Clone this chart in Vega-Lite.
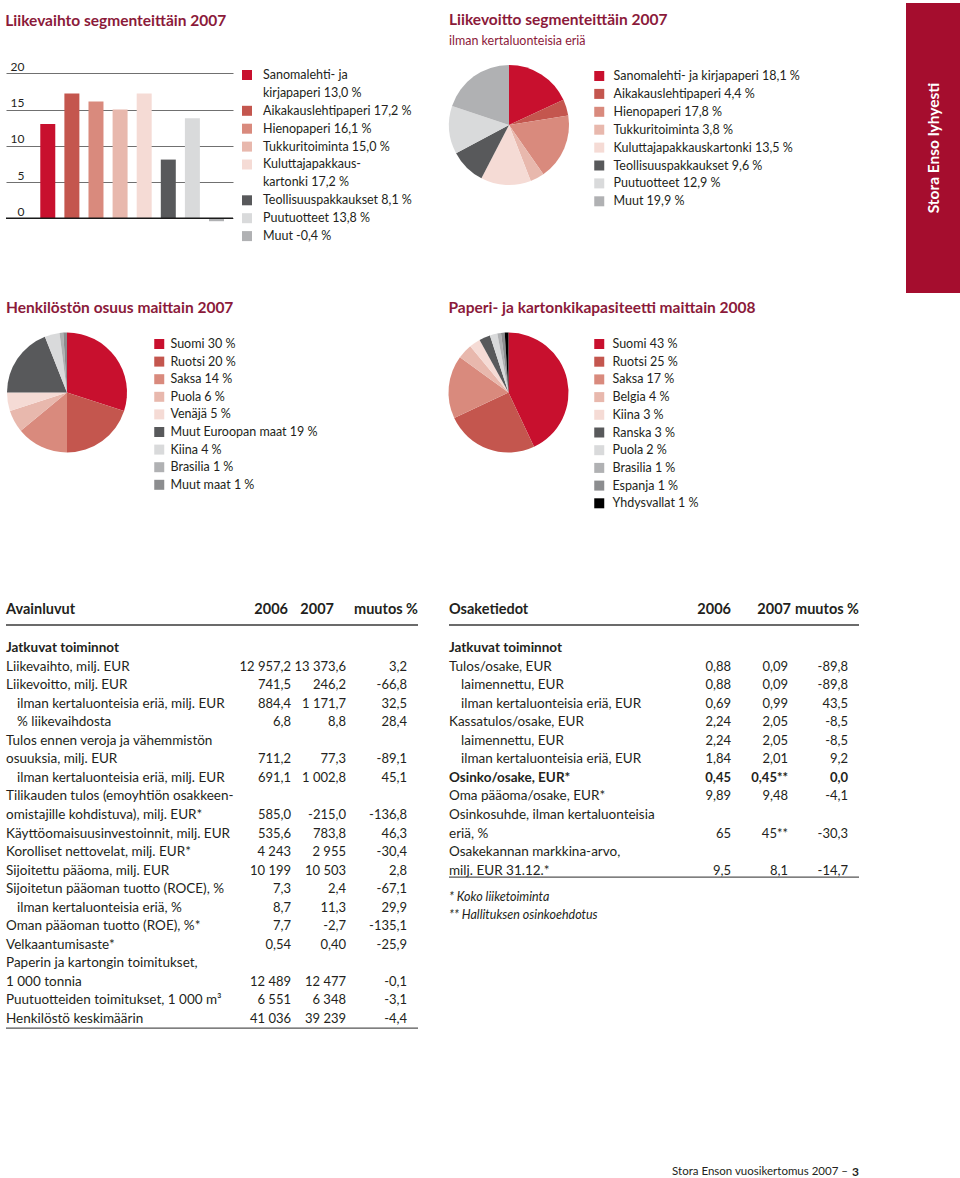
{
"$schema":"https://vega.github.io/schema/vega-lite/v6.json",
"padding":{"left":5,"top":3,"right":0,"bottom":0},
"background":"white",
"config":{"font":"Lato","view":{"stroke":null},
 "title":{"anchor":"start","font":"Lato","fontSize":15.5,"fontWeight":"bold","color":"#8b1a3a","subtitleFont":"Lato","subtitleFontSize":12.5,"subtitleColor":"#8b1a3a","subtitlePadding":6},
 "text":{"font":"Lato","color":"#231f20"},
 "axis":{"labelFont":"Lato"},
 "legend":{"orient":"none","direction":"vertical","title":null,"symbolType":"square","symbolSize":100,"symbolStrokeWidth":0,"symbolOpacity":1,"labelFont":"Lato","labelFontSize":12.5,"labelColor":"#231f20","padding":0,"labelLimit":400}},
"datasets":{
 "bars":[{"segment":"Sanomalehti- ja kirjapaperi","value":13.0},{"segment":"Aikakauslehtipaperi","value":17.2},{"segment":"Hienopaperi","value":16.1},{"segment":"Tukkuritoiminta","value":15.0},{"segment":"Kuluttajapakkauskartonki","value":17.2},{"segment":"Teollisuuspakkaukset","value":8.1},{"segment":"Puutuotteet","value":13.8},{"segment":"Muut","value":-0.4}],
 "barlegend":[{"line":0,"text":"Sanomalehti- ja","key":"Sanomalehti- ja kirjapaperi"},{"line":1,"text":"kirjapaperi 13,0 %"},{"line":2,"text":"Aikakauslehtipaperi 17,2 %","key":"Aikakauslehtipaperi"},{"line":3,"text":"Hienopaperi 16,1 %","key":"Hienopaperi"},{"line":4,"text":"Tukkuritoiminta 15,0 %","key":"Tukkuritoiminta"},{"line":5,"text":"Kuluttajapakkaus-","key":"Kuluttajapakkauskartonki"},{"line":6,"text":"kartonki 17,2 %"},{"line":7,"text":"Teollisuuspakkaukset 8,1 %","key":"Teollisuuspakkaukset"},{"line":8,"text":"Puutuotteet 13,8 %","key":"Puutuotteet"},{"line":9,"text":"Muut -0,4 %","key":"Muut"}],
 "pie1":[{"line":0,"key":"Sanomalehti- ja kirjapaperi 18,1 %","value":18.1},{"line":1,"key":"Aikakauslehtipaperi 4,4 %","value":4.4},{"line":2,"key":"Hienopaperi 17,8 %","value":17.8},{"line":3,"key":"Tukkuritoiminta 3,8 %","value":3.8},{"line":4,"key":"Kuluttajapakkauskartonki 13,5 %","value":13.5},{"line":5,"key":"Teollisuuspakkaukset 9,6 %","value":9.6},{"line":6,"key":"Puutuotteet 12,9 %","value":12.9},{"line":7,"key":"Muut 19,9 %","value":19.9}],
 "pie2":[{"line":0,"key":"Suomi 30 %","value":30},{"line":1,"key":"Ruotsi 20 %","value":20},{"line":2,"key":"Saksa 14 %","value":14},{"line":3,"key":"Puola 6 %","value":6},{"line":4,"key":"Venäjä 5 %","value":5},{"line":5,"key":"Muut Euroopan maat 19 %","value":19},{"line":6,"key":"Kiina 4 %","value":4},{"line":7,"key":"Brasilia 1 %","value":1},{"line":8,"key":"Muut maat 1 %","value":1}],
 "pie3":[{"line":0,"key":"Suomi 43 %","value":43},{"line":1,"key":"Ruotsi 25 %","value":25},{"line":2,"key":"Saksa 17 %","value":17},{"line":3,"key":"Belgia 4 %","value":4},{"line":4,"key":"Kiina 3 %","value":3},{"line":5,"key":"Ranska 3 %","value":3},{"line":6,"key":"Puola 2 %","value":2},{"line":7,"key":"Brasilia 1 %","value":1},{"line":8,"key":"Espanja 1 %","value":1},{"line":9,"key":"Yhdysvallat 1 %","value":1}],
 "t1":[{"r":-2.05,"k":"h","label":"Avainluvut","a":"2006","b":"2007","c":"muutos %"},{"r":0,"k":"b","label":"Jatkuvat toiminnot"},{"r":1,"k":"n","label":"Liikevaihto, milj. EUR","a":"12 957,2","b":"13 373,6","c":"3,2"},{"r":2,"k":"n","label":"Liikevoitto, milj. EUR","a":"741,5","b":"246,2","c":"-66,8"},{"r":3,"k":"i","label":"ilman kertaluonteisia eriä, milj. EUR","a":"884,4","b":"1 171,7","c":"32,5"},{"r":4,"k":"i","label":"% liikevaihdosta","a":"6,8","b":"8,8","c":"28,4"},{"r":5,"k":"n","label":"Tulos ennen veroja ja vähemmistön"},{"r":6,"k":"n","label":"osuuksia, milj. EUR","a":"711,2","b":"77,3","c":"-89,1"},{"r":7,"k":"i","label":"ilman kertaluonteisia eriä, milj. EUR","a":"691,1","b":"1 002,8","c":"45,1"},{"r":8,"k":"n","label":"Tilikauden tulos (emoyhtiön osakkeen-"},{"r":9,"k":"n","label":"omistajille kohdistuva), milj. EUR*","a":"585,0","b":"-215,0","c":"-136,8"},{"r":10,"k":"n","label":"Käyttöomaisuusinvestoinnit, milj. EUR","a":"535,6","b":"783,8","c":"46,3"},{"r":11,"k":"n","label":"Korolliset nettovelat, milj. EUR*","a":"4 243","b":"2 955","c":"-30,4"},{"r":12,"k":"n","label":"Sijoitettu pääoma, milj. EUR","a":"10 199","b":"10 503","c":"2,8"},{"r":13,"k":"n","label":"Sijoitetun pääoman tuotto (ROCE), %","a":"7,3","b":"2,4","c":"-67,1"},{"r":14,"k":"i","label":"ilman kertaluonteisia eriä, %","a":"8,7","b":"11,3","c":"29,9"},{"r":15,"k":"n","label":"Oman pääoman tuotto (ROE), %*","a":"7,7","b":"-2,7","c":"-135,1"},{"r":16,"k":"n","label":"Velkaantumisaste*","a":"0,54","b":"0,40","c":"-25,9"},{"r":17,"k":"n","label":"Paperin ja kartongin toimitukset,"},{"r":18,"k":"n","label":"1 000 tonnia","a":"12 489","b":"12 477","c":"-0,1"},{"r":19,"k":"n","label":"Puutuotteiden toimitukset, 1 000 m³","a":"6 551","b":"6 348","c":"-3,1"},{"r":20,"k":"n","label":"Henkilöstö keskimäärin","a":"41 036","b":"39 239","c":"-4,4"}],
 "t2":[{"r":-2.05,"k":"h","label":"Osaketiedot","a":"2006","b":"2007","c":"muutos %"},{"r":0,"k":"b","label":"Jatkuvat toiminnot"},{"r":1,"k":"n","label":"Tulos/osake, EUR","a":"0,88","b":"0,09","c":"-89,8"},{"r":2,"k":"i","label":"laimennettu, EUR","a":"0,88","b":"0,09","c":"-89,8"},{"r":3,"k":"i","label":"ilman kertaluonteisia eriä, EUR","a":"0,69","b":"0,99","c":"43,5"},{"r":4,"k":"n","label":"Kassatulos/osake, EUR","a":"2,24","b":"2,05","c":"-8,5"},{"r":5,"k":"i","label":"laimennettu, EUR","a":"2,24","b":"2,05","c":"-8,5"},{"r":6,"k":"i","label":"ilman kertaluonteisia eriä, EUR","a":"1,84","b":"2,01","c":"9,2"},{"r":7,"k":"b","label":"Osinko/osake, EUR*","a":"0,45","b":"0,45**","c":"0,0"},{"r":8,"k":"n","label":"Oma pääoma/osake, EUR*","a":"9,89","b":"9,48","c":"-4,1"},{"r":9,"k":"n","label":"Osinkosuhde, ilman kertaluonteisia"},{"r":10,"k":"n","label":"eriä, %","a":"65","b":"45**","c":"-30,3"},{"r":11,"k":"n","label":"Osakekannan markkina-arvo,"},{"r":12,"k":"n","label":"milj. EUR 31.12.*","a":"9,5","b":"8,1","c":"-14,7"},{"r":13.4,"k":"f","label":"* Koko liiketoiminta"},{"r":14.4,"k":"f","label":"** Hallituksen osinkoehdotus"}]
},
"concat":[
 {"width":227,"height":290,"title":{"text":"Liikevaihto segmenteittäin 2007","offset":-26},"data":{"name":"bars"},
  "layer":[
   {"mark":{"type":"bar"},"encoding":{
     "x":{"field":"segment","type":"nominal","sort":null,"scale":{"paddingInner":0.378,"paddingOuter":0.898,"align":0.792},"axis":null},
     "y":{"field":"value","type":"quantitative","scale":{"domain":[-10.303,29.697],"nice":false,"zero":false},"axis":{"values":[0,5,10,15,20],"grid":true,"gridColor":"#707070","gridWidth":1,"domain":false,"ticks":false,"tickSize":0,"labelPadding":-18,"labelAlign":"right","labelBaseline":"bottom","labelFontSize":12,"labelColor":"#231f20","title":null,"labelFlush":false,"labelOverlap":false,"labelBound":false}},
     "color":{"field":"segment","type":"nominal","scale":{"domain":["Sanomalehti- ja kirjapaperi","Aikakauslehtipaperi","Hienopaperi","Tukkuritoiminta","Kuluttajapakkauskartonki","Teollisuuspakkaukset","Puutuotteet","Muut"],"range":["#c8102e","#c4564e","#d98a7d","#e8b8ad","#f5dbd5","#58595b","#d9dadb","#b0b1b3"]},"legend":null}}},
   {"transform":[{"filter":"datum.segment=='Muut'"}],"mark":{"type":"rule","color":"#1a1a1a","strokeWidth":1.5},"encoding":{"y":{"datum":0,"type":"quantitative"}}}
  ]},
 {"width":12,"height":290,"data":{"name":"barlegend"},
  "layer":[
   {"transform":[{"filter":"isValid(datum.key)"}],"mark":{"type":"point","shape":"square","filled":true,"size":100,"opacity":1},"encoding":{
     "y":{"field":"line","type":"quantitative","scale":{"domain":[-4.0223,12.1788],"reverse":true,"nice":false,"zero":false},"axis":null},
     "color":{"field":"key","type":"nominal","scale":{"domain":["Sanomalehti- ja kirjapaperi","Aikakauslehtipaperi","Hienopaperi","Tukkuritoiminta","Kuluttajapakkauskartonki","Teollisuuspakkaukset","Puutuotteet","Muut"],"range":["#c8102e","#c4564e","#d98a7d","#e8b8ad","#f5dbd5","#58595b","#d9dadb","#b0b1b3"]},"legend":null}}},
   {"mark":{"type":"text","align":"left","baseline":"middle","dx":16,"fontSize":12.5},"encoding":{
     "y":{"field":"line","type":"quantitative","scale":{"domain":[-4.0223,12.1788],"reverse":true,"nice":false,"zero":false},"axis":null},
     "text":{"field":"text","type":"nominal"}}}
  ]},
 {"width":1,"height":1,"data":{"values":[]},"mark":"point"},
 {"width":1,"height":1,"data":{"values":[]},"mark":"point"},
 {"width":1,"height":1,"data":{"values":[]},"mark":"point"},
 {"width":120,"height":244,"title":{"text":"Liikevoitto segmenteittäin 2007","subtitle":"ilman kertaluonteisia eriä","offset":-44},"data":{"name":"pie1"},
  "mark":{"type":"arc","outerRadius":60},
  "encoding":{"theta":{"field":"value","type":"quantitative","stack":true},"order":{"field":"line","type":"quantitative"},
   "color":{"field":"key","type":"nominal","scale":{"domain":["Sanomalehti- ja kirjapaperi 18,1 %","Aikakauslehtipaperi 4,4 %","Hienopaperi 17,8 %","Tukkuritoiminta 3,8 %","Kuluttajapakkauskartonki 13,5 %","Teollisuuspakkaukset 9,6 %","Puutuotteet 12,9 %","Muut 19,9 %"],"range":["#c8102e","#c4564e","#d98a7d","#e8b8ad","#f5dbd5","#58595b","#d9dadb","#b0b1b3"]},
    "legend":{"legendX":144,"legendY":66.75,"labelOffset":8,"rowPadding":4.9}}}},
 {"width":1,"height":1,"data":{"values":[]},"mark":"point"},
 {"width":1,"height":1,"data":{"values":[]},"mark":"point"},
 {"width":1,"height":1,"data":{"values":[]},"mark":"point"},
 {"width":1,"height":1,"data":{"values":[]},"mark":"point"},
 {"width":55,"height":290,"data":{"values":[{"label":"Stora Enso lyhyesti"}]},
  "layer":[
   {"mark":{"type":"rect","color":"#a50d2e"},"encoding":{}},
   {"mark":{"type":"text","angle":270,"align":"center","baseline":"middle","fontSize":15.5,"fontWeight":"bold","color":"white"},"encoding":{"text":{"field":"label","type":"nominal"}}}
  ]},

 {"width":122,"height":199,"title":{"text":"Henkilöstön osuus maittain 2007","offset":-23},"data":{"name":"pie2"},
  "mark":{"type":"arc","outerRadius":60},
  "encoding":{"theta":{"field":"value","type":"quantitative","stack":true},"order":{"field":"line","type":"quantitative"},
   "color":{"field":"key","type":"nominal","scale":{"domain":["Suomi 30 %","Ruotsi 20 %","Saksa 14 %","Puola 6 %","Venäjä 5 %","Muut Euroopan maat 19 %","Kiina 4 %","Brasilia 1 %","Muut maat 1 %"],"range":["#c8102e","#c4564e","#d98a7d","#e8b8ad","#f5dbd5","#58595b","#d9dadb","#b0b1b3","#8c8d8f"]},
    "legend":{"legendX":147,"legendY":44.75,"labelOffset":5,"rowPadding":4.6}}}},
 {"width":1,"height":1,"data":{"values":[]},"mark":"point"},
 {"width":1,"height":1,"data":{"values":[]},"mark":"point"},
 {"width":1,"height":1,"data":{"values":[]},"mark":"point"},
 {"width":1,"height":1,"data":{"values":[]},"mark":"point"},
 {"width":119,"height":199,"title":{"text":"Paperi- ja kartonkikapasiteetti maittain 2008","offset":-23},"data":{"name":"pie3"},
  "mark":{"type":"arc","outerRadius":60},
  "encoding":{"theta":{"field":"value","type":"quantitative","stack":true},"order":{"field":"line","type":"quantitative"},
   "color":{"field":"key","type":"nominal","scale":{"domain":["Suomi 43 %","Ruotsi 25 %","Saksa 17 %","Belgia 4 %","Kiina 3 %","Ranska 3 %","Puola 2 %","Brasilia 1 %","Espanja 1 %","Yhdysvallat 1 %"],"range":["#c8102e","#c4564e","#d98a7d","#e8b8ad","#f5dbd5","#58595b","#d9dadb","#b0b1b3","#8c8d8f","#000000"]},
    "legend":{"legendX":144,"legendY":44.75,"labelOffset":7,"rowPadding":4.7}}}},
 {"width":1,"height":1,"data":{"values":[]},"mark":"point"},
 {"width":1,"height":1,"data":{"values":[]},"mark":"point"},
 {"width":1,"height":1,"data":{"values":[]},"mark":"point"},
 {"width":1,"height":1,"data":{"values":[]},"mark":"point"},
 {"width":1,"height":297,"data":{"values":[]},"mark":"point"},

 {"width":235,"height":576,"data":{"name":"t1"},
  "layer":[
   {"transform":[{"filter":"datum.k=='n'"}],"mark":{"type":"text","align":"left","baseline":"middle","fontSize":13.5},"encoding":{"x":{"datum":0,"type":"quantitative","scale":{"domain":[0,1],"nice":false,"zero":false},"axis":null},"y":{"field":"r","type":"quantitative","scale":{"domain":[-3.12668,27.924],"reverse":true,"nice":false,"zero":false},"axis":null},"text":{"field":"label","type":"nominal"}}},
   {"transform":[{"filter":"datum.k=='i'"}],"mark":{"type":"text","align":"left","baseline":"middle","fontSize":13.5,"dx":11},"encoding":{"x":{"datum":0,"type":"quantitative"},"y":{"field":"r","type":"quantitative"},"text":{"field":"label","type":"nominal"}}},
   {"transform":[{"filter":"datum.k=='b'"}],"mark":{"type":"text","align":"left","baseline":"middle","fontSize":13.5,"fontWeight":"bold"},"encoding":{"x":{"datum":0,"type":"quantitative"},"y":{"field":"r","type":"quantitative"},"text":{"field":"label","type":"nominal"}}},
   {"transform":[{"filter":"datum.k=='h'"}],"mark":{"type":"text","align":"left","baseline":"middle","fontSize":14.5,"fontWeight":"bold"},"encoding":{"x":{"datum":0,"type":"quantitative"},"y":{"field":"r","type":"quantitative"},"text":{"field":"label","type":"nominal"}}},
   {"transform":[{"filter":"datum.k=='h'"}],"mark":{"type":"rule","color":"#3a3a3a","strokeWidth":1.5},"encoding":{"y":{"datum":-1.24,"type":"quantitative"}}},
   {"transform":[{"filter":"datum.k=='h'"}],"mark":{"type":"rule","color":"#555555","strokeWidth":1.2},"encoding":{"y":{"datum":20.49,"type":"quantitative"}}}
  ]},
 {"width":50,"height":576,"data":{"name":"t1"},
  "layer":[
   {"transform":[{"filter":"(datum.k=='n'||datum.k=='i') && datum.a"}],"mark":{"type":"text","align":"right","baseline":"middle","fontSize":13},"encoding":{"x":{"datum":1,"type":"quantitative","scale":{"domain":[0,1],"nice":false,"zero":false},"axis":null},"y":{"field":"r","type":"quantitative","scale":{"domain":[-3.12668,27.924],"reverse":true,"nice":false,"zero":false},"axis":null},"text":{"field":"a","type":"nominal"}}},
   {"transform":[{"filter":"datum.k=='h'"}],"mark":{"type":"text","align":"right","baseline":"middle","fontSize":14.5,"fontWeight":"bold","dx":-3},"encoding":{"x":{"datum":1,"type":"quantitative"},"y":{"field":"r","type":"quantitative"},"text":{"field":"a","type":"nominal"}}},
   {"transform":[{"filter":"datum.k=='h'"}],"mark":{"type":"rule","color":"#3a3a3a","strokeWidth":1.5},"encoding":{"y":{"datum":-1.24,"type":"quantitative"}}},
   {"transform":[{"filter":"datum.k=='h'"}],"mark":{"type":"rule","color":"#555555","strokeWidth":1.2},"encoding":{"y":{"datum":20.49,"type":"quantitative"}}}
  ]},
 {"width":55,"height":576,"data":{"name":"t1"},
  "layer":[
   {"transform":[{"filter":"(datum.k=='n'||datum.k=='i') && datum.b"}],"mark":{"type":"text","align":"right","baseline":"middle","fontSize":13},"encoding":{"x":{"datum":1,"type":"quantitative","scale":{"domain":[0,1],"nice":false,"zero":false},"axis":null},"y":{"field":"r","type":"quantitative","scale":{"domain":[-3.12668,27.924],"reverse":true,"nice":false,"zero":false},"axis":null},"text":{"field":"b","type":"nominal"}}},
   {"transform":[{"filter":"datum.k=='h'"}],"mark":{"type":"text","align":"right","baseline":"middle","fontSize":14.5,"fontWeight":"bold","dx":-12},"encoding":{"x":{"datum":1,"type":"quantitative"},"y":{"field":"r","type":"quantitative"},"text":{"field":"b","type":"nominal"}}},
   {"transform":[{"filter":"datum.k=='h'"}],"mark":{"type":"rule","color":"#3a3a3a","strokeWidth":1.5},"encoding":{"y":{"datum":-1.24,"type":"quantitative"}}},
   {"transform":[{"filter":"datum.k=='h'"}],"mark":{"type":"rule","color":"#555555","strokeWidth":1.2},"encoding":{"y":{"datum":20.49,"type":"quantitative"}}}
  ]},
 {"width":72,"height":576,"data":{"name":"t1"},
  "layer":[
   {"transform":[{"filter":"(datum.k=='n'||datum.k=='i') && datum.c"}],"mark":{"type":"text","align":"right","baseline":"middle","fontSize":13,"dx":-11},"encoding":{"x":{"datum":1,"type":"quantitative","scale":{"domain":[0,1],"nice":false,"zero":false},"axis":null},"y":{"field":"r","type":"quantitative","scale":{"domain":[-3.12668,27.924],"reverse":true,"nice":false,"zero":false},"axis":null},"text":{"field":"c","type":"nominal"}}},
   {"transform":[{"filter":"datum.k=='h'"}],"mark":{"type":"text","align":"right","baseline":"middle","fontSize":14.5,"fontWeight":"bold"},"encoding":{"x":{"datum":1,"type":"quantitative"},"y":{"field":"r","type":"quantitative"},"text":{"field":"c","type":"nominal"}}},
   {"transform":[{"filter":"datum.k=='h'"}],"mark":{"type":"rule","color":"#3a3a3a","strokeWidth":1.5},"encoding":{"y":{"datum":-1.24,"type":"quantitative"}}},
   {"transform":[{"filter":"datum.k=='h'"}],"mark":{"type":"rule","color":"#555555","strokeWidth":1.2},"encoding":{"y":{"datum":20.49,"type":"quantitative"}}}
  ]},
 {"width":31,"height":1,"data":{"values":[]},"mark":"point"},
 {"width":232,"height":576,"data":{"name":"t2"},
  "layer":[
   {"transform":[{"filter":"datum.k=='n'"}],"mark":{"type":"text","align":"left","baseline":"middle","fontSize":13.5},"encoding":{"x":{"datum":0,"type":"quantitative","scale":{"domain":[0,1],"nice":false,"zero":false},"axis":null},"y":{"field":"r","type":"quantitative","scale":{"domain":[-3.12668,27.924],"reverse":true,"nice":false,"zero":false},"axis":null},"text":{"field":"label","type":"nominal"}}},
   {"transform":[{"filter":"datum.k=='i'"}],"mark":{"type":"text","align":"left","baseline":"middle","fontSize":13.5,"dx":12},"encoding":{"x":{"datum":0,"type":"quantitative"},"y":{"field":"r","type":"quantitative"},"text":{"field":"label","type":"nominal"}}},
   {"transform":[{"filter":"datum.k=='b'"}],"mark":{"type":"text","align":"left","baseline":"middle","fontSize":13.5,"fontWeight":"bold"},"encoding":{"x":{"datum":0,"type":"quantitative"},"y":{"field":"r","type":"quantitative"},"text":{"field":"label","type":"nominal"}}},
   {"transform":[{"filter":"datum.k=='f'"}],"mark":{"type":"text","align":"left","baseline":"middle","fontSize":12.5,"fontStyle":"italic"},"encoding":{"x":{"datum":0,"type":"quantitative"},"y":{"field":"r","type":"quantitative"},"text":{"field":"label","type":"nominal"}}},
   {"transform":[{"filter":"datum.k=='h'"}],"mark":{"type":"text","align":"left","baseline":"middle","fontSize":14.5,"fontWeight":"bold"},"encoding":{"x":{"datum":0,"type":"quantitative"},"y":{"field":"r","type":"quantitative"},"text":{"field":"label","type":"nominal"}}},
   {"transform":[{"filter":"datum.k=='h'"}],"mark":{"type":"rule","color":"#3a3a3a","strokeWidth":1.5},"encoding":{"y":{"datum":-1.24,"type":"quantitative"}}},
   {"transform":[{"filter":"datum.k=='h'"}],"mark":{"type":"rule","color":"#555555","strokeWidth":1.2},"encoding":{"y":{"datum":12.35,"type":"quantitative"}}}
  ]},
 {"width":50,"height":576,"data":{"name":"t2"},
  "layer":[
   {"transform":[{"filter":"(datum.k=='n'||datum.k=='i') && datum.a"}],"mark":{"type":"text","align":"right","baseline":"middle","fontSize":13},"encoding":{"x":{"datum":1,"type":"quantitative","scale":{"domain":[0,1],"nice":false,"zero":false},"axis":null},"y":{"field":"r","type":"quantitative","scale":{"domain":[-3.12668,27.924],"reverse":true,"nice":false,"zero":false},"axis":null},"text":{"field":"a","type":"nominal"}}},
   {"transform":[{"filter":"datum.k=='b' && datum.a"}],"mark":{"type":"text","align":"right","baseline":"middle","fontSize":13,"fontWeight":"bold"},"encoding":{"x":{"datum":1,"type":"quantitative"},"y":{"field":"r","type":"quantitative"},"text":{"field":"a","type":"nominal"}}},
   {"transform":[{"filter":"datum.k=='h'"}],"mark":{"type":"text","align":"right","baseline":"middle","fontSize":14.5,"fontWeight":"bold"},"encoding":{"x":{"datum":1,"type":"quantitative"},"y":{"field":"r","type":"quantitative"},"text":{"field":"a","type":"nominal"}}},
   {"transform":[{"filter":"datum.k=='h'"}],"mark":{"type":"rule","color":"#3a3a3a","strokeWidth":1.5},"encoding":{"y":{"datum":-1.24,"type":"quantitative"}}},
   {"transform":[{"filter":"datum.k=='h'"}],"mark":{"type":"rule","color":"#555555","strokeWidth":1.2},"encoding":{"y":{"datum":12.35,"type":"quantitative"}}}
  ]},
 {"width":57,"height":576,"data":{"name":"t2"},
  "layer":[
   {"transform":[{"filter":"(datum.k=='n'||datum.k=='i') && datum.b"}],"mark":{"type":"text","align":"right","baseline":"middle","fontSize":13},"encoding":{"x":{"datum":1,"type":"quantitative","scale":{"domain":[0,1],"nice":false,"zero":false},"axis":null},"y":{"field":"r","type":"quantitative","scale":{"domain":[-3.12668,27.924],"reverse":true,"nice":false,"zero":false},"axis":null},"text":{"field":"b","type":"nominal"}}},
   {"transform":[{"filter":"datum.k=='b' && datum.b"}],"mark":{"type":"text","align":"right","baseline":"middle","fontSize":13,"fontWeight":"bold"},"encoding":{"x":{"datum":1,"type":"quantitative"},"y":{"field":"r","type":"quantitative"},"text":{"field":"b","type":"nominal"}}},
   {"transform":[{"filter":"datum.k=='h'"}],"mark":{"type":"text","align":"right","baseline":"middle","fontSize":14.5,"fontWeight":"bold","dx":3},"encoding":{"x":{"datum":1,"type":"quantitative"},"y":{"field":"r","type":"quantitative"},"text":{"field":"b","type":"nominal"}}},
   {"transform":[{"filter":"datum.k=='h'"}],"mark":{"type":"rule","color":"#3a3a3a","strokeWidth":1.5},"encoding":{"y":{"datum":-1.24,"type":"quantitative"}}},
   {"transform":[{"filter":"datum.k=='h'"}],"mark":{"type":"rule","color":"#555555","strokeWidth":1.2},"encoding":{"y":{"datum":12.35,"type":"quantitative"}}}
  ]},
 {"width":71,"height":576,"data":{"name":"t2"},
  "layer":[
   {"transform":[{"filter":"(datum.k=='n'||datum.k=='i') && datum.c"}],"mark":{"type":"text","align":"right","baseline":"middle","fontSize":13,"dx":-11},"encoding":{"x":{"datum":1,"type":"quantitative","scale":{"domain":[0,1],"nice":false,"zero":false},"axis":null},"y":{"field":"r","type":"quantitative","scale":{"domain":[-3.12668,27.924],"reverse":true,"nice":false,"zero":false},"axis":null},"text":{"field":"c","type":"nominal"}}},
   {"transform":[{"filter":"datum.k=='b' && datum.c"}],"mark":{"type":"text","align":"right","baseline":"middle","fontSize":13,"fontWeight":"bold","dx":-11},"encoding":{"x":{"datum":1,"type":"quantitative"},"y":{"field":"r","type":"quantitative"},"text":{"field":"c","type":"nominal"}}},
   {"transform":[{"filter":"datum.k=='h'"}],"mark":{"type":"text","align":"right","baseline":"middle","fontSize":14.5,"fontWeight":"bold"},"encoding":{"x":{"datum":1,"type":"quantitative"},"y":{"field":"r","type":"quantitative"},"text":{"field":"c","type":"nominal"}}},
   {"transform":[{"filter":"datum.k=='h'"}],"mark":{"type":"rule","color":"#3a3a3a","strokeWidth":1.5},"encoding":{"y":{"datum":-1.24,"type":"quantitative"}}},
   {"transform":[{"filter":"datum.k=='h'"}],"mark":{"type":"rule","color":"#555555","strokeWidth":1.2},"encoding":{"y":{"datum":12.35,"type":"quantitative"}}}
  ]},
 {"width":47,"height":1,"data":{"values":[]},"mark":"point"},
 {"width":1,"height":1,"data":{"values":[]},"mark":"point"},

 {"width":1,"height":1,"data":{"values":[]},"mark":"point"},
 {"width":1,"height":1,"data":{"values":[]},"mark":"point"},
 {"width":1,"height":1,"data":{"values":[]},"mark":"point"},
 {"width":1,"height":1,"data":{"values":[]},"mark":"point"},
 {"width":1,"height":1,"data":{"values":[]},"mark":"point"},
 {"width":1,"height":1,"data":{"values":[]},"mark":"point"},
 {"width":1,"height":1,"data":{"values":[]},"mark":"point"},
 {"width":1,"height":1,"data":{"values":[]},"mark":"point"},
 {"width":71,"height":12,"data":{"values":[{"a":"Stora Enson vuosikertomus 2007 –","b":"3"}]},
  "layer":[
   {"mark":{"type":"text","align":"right","baseline":"middle","fontSize":11.5,"dx":-11},"encoding":{"x":{"datum":1,"type":"quantitative","scale":{"domain":[0,1],"nice":false,"zero":false},"axis":null},"text":{"field":"a","type":"nominal"}}},
   {"mark":{"type":"text","align":"right","baseline":"middle","fontSize":12,"fontWeight":"bold"},"encoding":{"x":{"datum":1,"type":"quantitative"},"text":{"field":"b","type":"nominal"}}}
  ]},
 {"width":1,"height":1,"data":{"values":[]},"mark":"point"},
 {"width":1,"height":1,"data":{"values":[]},"mark":"point"}
],
"columns":11,
"spacing":0,
"bounds":"flush",
"align":"each",
"resolve":{"scale":{"x":"independent","y":"independent","color":"independent","theta":"independent"},"legend":{"color":"independent"}}
}
